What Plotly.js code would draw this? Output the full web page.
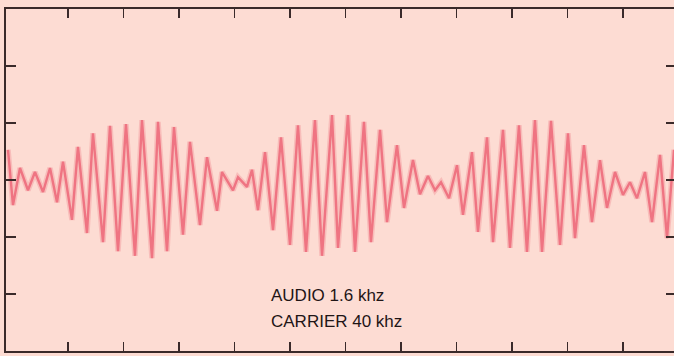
<!DOCTYPE html>
<html>
<head>
<meta charset="utf-8">
<script src="https://cdn.plot.ly/plotly-3.0.1.min.js"></script>
<style>
  html, body { margin: 0; padding: 0; overflow: hidden; background: #fddcd3; }
  #chart { width: 678px; height: 356px; }
</style>
</head>
<body>
<div id="chart"></div>
<script>
// Time axis in tenths of a screen division; amplitude in screen divisions
const timeDiv = [
  -0.81, 0.09, 1.35, 2.79, 4.05, 5.50, 6.76, 8.02, 9.10, 10.72,
  11.80, 13.42, 14.50, 16.31, 17.57, 19.01, 20.45, 22.07, 23.33, 25.14,
  26.22, 27.84, 29.10, 30.72, 31.98, 33.78, 35.05, 36.85, 37.75, 39.73,
  40.63, 42.25, 43.15, 44.23, 45.50, 46.94, 48.38, 50.00, 51.44, 52.88,
  54.50, 55.77, 57.57, 58.65, 60.45, 61.71, 63.33, 64.59, 66.22, 67.48,
  69.28, 70.54, 72.16, 73.42, 74.86, 76.13, 77.21, 78.65, 80.09, 81.17,
  82.79, 83.87, 85.50, 86.58, 88.38, 89.64, 91.26, 92.70, 94.14, 95.41,
  97.03, 98.65, 100.09, 101.35, 102.97, 104.41, 105.86, 107.12, 108.56, 110.00,
  111.26, 112.52, 113.96, 115.23, 116.67, 117.93, 119.19
];
const amplitude = [
  0.53, -0.44, 0.21, -0.18, 0.14, -0.21, 0.21, -0.39, 0.32, -0.70,
  0.58, -0.93, 0.82, -1.09, 0.95, -1.25, 0.98, -1.33, 1.05, -1.37,
  1.02, -1.25, 0.93, -0.96, 0.67, -0.79, 0.40, -0.54, 0.14, -0.18,
  0.05, -0.12, 0.18, -0.53, 0.49, -0.88, 0.75, -1.14, 0.96, -1.26,
  1.05, -1.33, 1.14, -1.19, 1.14, -1.26, 1.02, -1.09, 0.88, -0.74,
  0.61, -0.49, 0.35, -0.25, 0.07, -0.18, -0.04, -0.32, 0.26, -0.61,
  0.49, -0.91, 0.75, -1.09, 0.88, -1.19, 0.96, -1.26, 1.05, -1.26,
  1.04, -1.14, 0.82, -1.02, 0.61, -0.74, 0.35, -0.49, 0.14, -0.26,
  -0.04, -0.32, 0.14, -0.74, 0.44, -1.02, 0.53
];
const xTicks = [10, 20, 30, 40, 50, 60, 70, 80, 90, 100, 110];
const yTicks = [-2, -1, 0, 1, 2];
const labelLines = ["AUDIO 1.6 khz", "CARRIER 40 khz"];

const frame = '#3a2a2a';
const traces = [
  { x: timeDiv, y: amplitude, mode: 'lines', hoverinfo: 'skip',
    line: { color: 'rgba(240,120,130,0.30)', width: 5.5 } },
  { x: timeDiv, y: amplitude, mode: 'lines', hoverinfo: 'skip',
    line: { color: '#ef7482', width: 2.4 } }
];

const layout = {
  width: 678, height: 356,
  margin: { l: 6, r: 2, t: 9, b: 5 },
  paper_bgcolor: '#fddcd3',
  plot_bgcolor: '#fddcd3',
  showlegend: false,
  xaxis: {
    range: [-1.17, 119.55], showgrid: false, zeroline: false,
    showline: true, linecolor: frame, linewidth: 2, mirror: 'ticks',
    ticks: 'inside', ticklen: 9, tickwidth: 1.5, tickcolor: frame,
    tickvals: xTicks, showticklabels: false
  },
  yaxis: {
    range: [-3, 3], showgrid: false, zeroline: false,
    showline: true, linecolor: frame, linewidth: 2, mirror: 'ticks',
    ticks: 'inside', ticklen: 10, tickwidth: 1.5, tickcolor: frame,
    tickvals: yTicks, showticklabels: false
  },
  annotations: [
    { x: 46.2, y: -2.03, xref: 'x', yref: 'y', xanchor: 'left', yanchor: 'middle',
      text: labelLines[0], showarrow: false,
      font: { family: 'Liberation Sans, Arial, sans-serif', size: 17, color: '#1f1516', weight: 500 } },
    { x: 46.2, y: -2.48, xref: 'x', yref: 'y', xanchor: 'left', yanchor: 'middle',
      text: labelLines[1], showarrow: false,
      font: { family: 'Liberation Sans, Arial, sans-serif', size: 17, color: '#1f1516', weight: 500 } }
  ]
};

Plotly.newPlot('chart', traces, layout, { staticPlot: true, displayModeBar: false });
</script>
</body>
</html>
